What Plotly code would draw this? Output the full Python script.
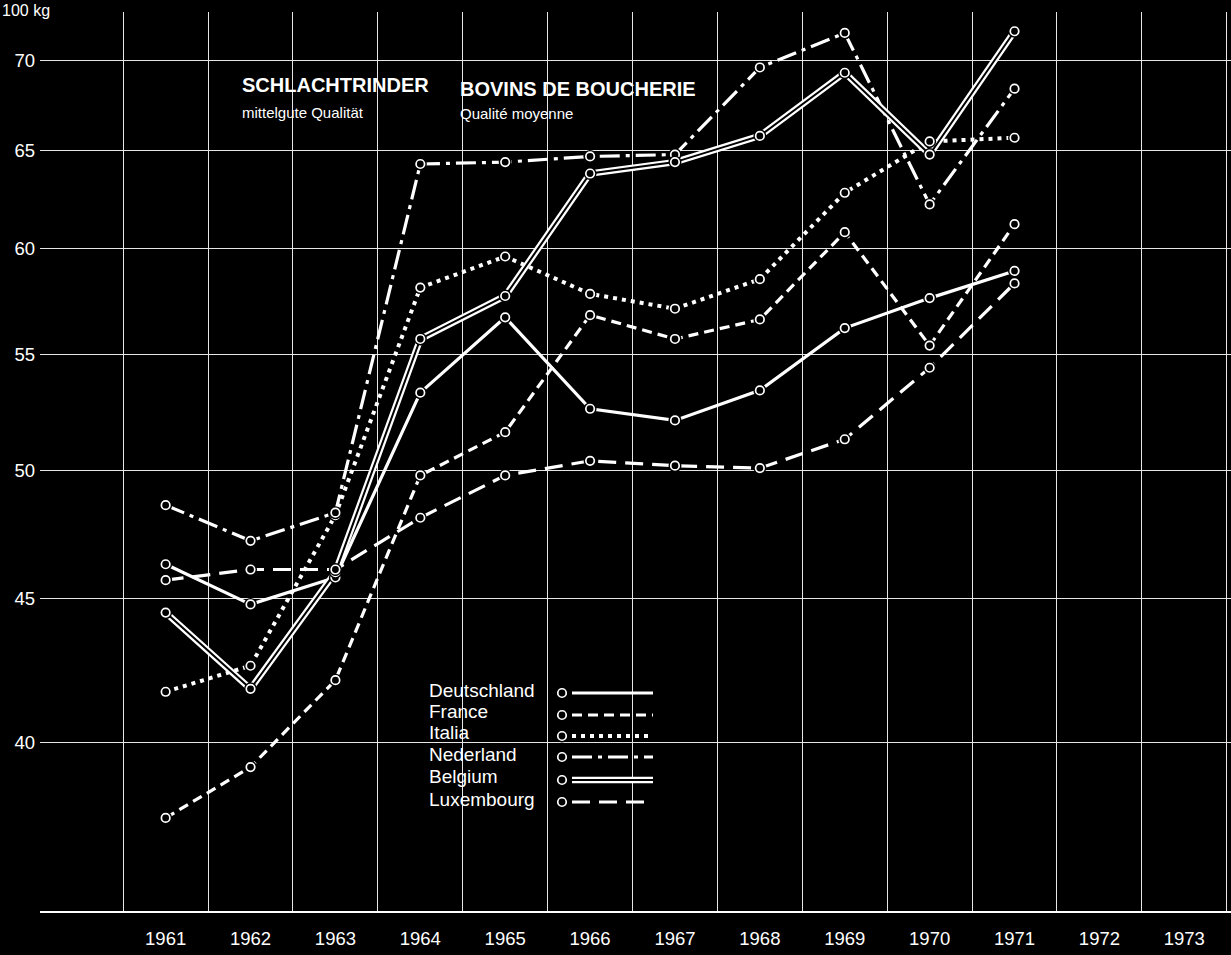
import plotly.graph_objects as go

# Slaughter cattle prices, medium quality (per 100 kg), 1961-1971
years = [1961, 1962, 1963, 1964, 1965, 1966, 1967, 1968, 1969, 1970, 1971]
deutschland = [46.3, 44.8, 45.8, 53.3, 56.7, 52.6, 52.1, 53.4, 56.2, 57.6, 58.9]
france = [37.6, 39.2, 42.1, 49.8, 51.6, 56.8, 55.7, 56.6, 60.8, 55.4, 61.2]
italia = [41.7, 42.6, 48.2, 58.1, 59.6, 57.8, 57.1, 58.5, 62.8, 65.5, 65.7]
nederland = [48.6, 47.2, 48.3, 64.3, 64.4, 64.7, 64.8, 69.6, 71.6, 62.2, 68.4]
belgium = [44.5, 41.8, 46.0, 55.7, 57.7, 63.8, 64.4, 65.8, 69.3, 64.8, 71.7]
luxembourg = [45.7, 46.1, 46.1, 48.1, 49.8, 50.4, 50.2, 50.1, 51.3, 54.4, 58.3]

x_ticks = list(range(1961, 1974))
x_tick_labels = [str(y) for y in x_ticks]
y_ticks = [40, 45, 50, 55, 60, 65, 70]
y_tick_labels = [str(v) for v in y_ticks]
series_names = ["Deutschland", "France", "Italia", "Nederland", "Belgium", "Luxembourg"]

FONT = "Liberation Sans, Arial, Helvetica, sans-serif"
WHITE = "#ffffff"
BLACK = "#000000"

# page geometry
PAGE_W, PAGE_H = 1231, 955
ML, MR, MT, MB = 40, 0, 12, 44
PW = PAGE_W - ML - MR
PH = PAGE_H - MT - MB


def px_x(px):
    return (px - ML) / PW


def px_y(py):
    return (PAGE_H - MB - py) / PH


styles = {
    "Deutschland": dict(kind="solid"),
    "France": dict(kind="dash", dash="10px,6px"),
    "Italia": dict(kind="dash", dash="4px,5px", width=4),
    "Nederland": dict(kind="dash", dash="20px,6px,4px,6px"),
    "Belgium": dict(kind="double"),
    "Luxembourg": dict(kind="dash", dash="18px,9px"),
}
values = {
    "Deutschland": deutschland,
    "France": france,
    "Italia": italia,
    "Nederland": nederland,
    "Belgium": belgium,
    "Luxembourg": luxembourg,
}

fig = go.Figure()


def add_line(fig, xs, ys, style, xaxis="x", yaxis="y"):
    kind = style["kind"]
    if kind == "double":
        fig.add_trace(go.Scatter(x=xs, y=ys, mode="lines", xaxis=xaxis, yaxis=yaxis,
                                 line=dict(color=WHITE, width=6.5), hoverinfo="skip",
                                 showlegend=False))
        fig.add_trace(go.Scatter(x=xs, y=ys, mode="lines", xaxis=xaxis, yaxis=yaxis,
                                 line=dict(color=BLACK, width=2), hoverinfo="skip",
                                 showlegend=False))
    else:
        fig.add_trace(go.Scatter(x=xs, y=ys, mode="lines", xaxis=xaxis, yaxis=yaxis,
                                 line=dict(color=WHITE, width=style.get("width", 3.2),
                                           dash=style.get("dash", "solid")),
                                 hoverinfo="skip", showlegend=False))


def add_markers(fig, xs, ys, xaxis="x", yaxis="y"):
    # black halo so that lines stop short of the rings
    fig.add_trace(go.Scatter(x=xs, y=ys, mode="markers", xaxis=xaxis, yaxis=yaxis,
                             marker=dict(symbol="circle", size=13, color=BLACK,
                                         line=dict(width=0)),
                             hoverinfo="skip", showlegend=False))
    fig.add_trace(go.Scatter(x=xs, y=ys, mode="markers", xaxis=xaxis, yaxis=yaxis,
                             marker=dict(symbol="circle", size=8.5, color=BLACK,
                                         line=dict(color=WHITE, width=1.7)),
                             hoverinfo="skip", showlegend=False))


for name in series_names:
    add_line(fig, years, values[name], styles[name])
for name in series_names:
    add_markers(fig, years, values[name])

# key: names on the left, line samples on the right
key_text_y = [690, 711, 732, 754, 776, 799]
key_line_y = [693, 715, 736, 757, 780, 802]
for i, name in enumerate(series_names):
    fig.add_annotation(x=px_x(427), y=px_y(key_text_y[i]), xref="paper", yref="paper",
                       text=name, showarrow=False, xanchor="left", yanchor="middle",
                       font=dict(family=FONT, size=19, color=WHITE))
    yy = px_y(key_line_y[i])
    add_line(fig, [px_x(572), px_x(653)], [yy, yy], styles[name], xaxis="x2", yaxis="y2")
    add_markers(fig, [px_x(562)], [yy], xaxis="x2", yaxis="y2")

# headings
fig.add_annotation(x=px_x(240), y=px_y(85), xref="paper", yref="paper",
                   text="<b>SCHLACHTRINDER</b>", showarrow=False, xanchor="left",
                   yanchor="middle", font=dict(family=FONT, size=20, color=WHITE))
fig.add_annotation(x=px_x(240), y=px_y(112), xref="paper", yref="paper",
                   text="mittelgute Qualität", showarrow=False, xanchor="left",
                   yanchor="middle", font=dict(family=FONT, size=15, color=WHITE))
fig.add_annotation(x=px_x(458), y=px_y(89), xref="paper", yref="paper",
                   text="<b>BOVINS DE BOUCHERIE</b>", showarrow=False, xanchor="left",
                   yanchor="middle", font=dict(family=FONT, size=20, color=WHITE))
fig.add_annotation(x=px_x(458), y=px_y(114), xref="paper", yref="paper",
                   text="Qualité moyenne", showarrow=False, xanchor="left",
                   yanchor="middle", font=dict(family=FONT, size=15, color=WHITE))
# unit label
fig.add_annotation(x=px_x(0), y=px_y(0), xref="paper", yref="paper",
                   text="100 kg", showarrow=False, xanchor="left",
                   yanchor="top", font=dict(family=FONT, size=16, color=WHITE))

fig.update_layout(
    width=PAGE_W, height=PAGE_H,
    margin=dict(l=ML, r=MR, t=MT, b=MB, pad=0),
    paper_bgcolor=BLACK, plot_bgcolor=BLACK,
    showlegend=False,
    font=dict(family=FONT, size=18, color=WHITE),
    xaxis=dict(
        range=[1959.52, 1973.55], tickvals=x_ticks, ticktext=x_tick_labels,
        showgrid=False, zeroline=False, showline=True, linecolor=WHITE, linewidth=1.5,
        ticks="", ticklabelstandoff=10, tickfont=dict(family=FONT, size=18.5, color=WHITE),
        minor=dict(tickvals=[y + 0.5 for y in range(1960, 1974)], showgrid=True,
                   gridcolor="#e6e6e6", gridwidth=1, ticks=""),
        fixedrange=True,
    ),
    yaxis=dict(
        type="log", range=[1.54201, 1.86238], tickvals=y_ticks, ticktext=y_tick_labels,
        showgrid=True, gridcolor="#e6e6e6", gridwidth=1, zeroline=False, showline=False,
        ticks="", ticklabelstandoff=4, tickfont=dict(family=FONT, size=18.5, color=WHITE),
        fixedrange=True,
    ),
    xaxis2=dict(overlaying="x", range=[0, 1], visible=False, fixedrange=True),
    yaxis2=dict(overlaying="y", range=[0, 1], visible=False, fixedrange=True),
)

fig.write_html("out.html")
